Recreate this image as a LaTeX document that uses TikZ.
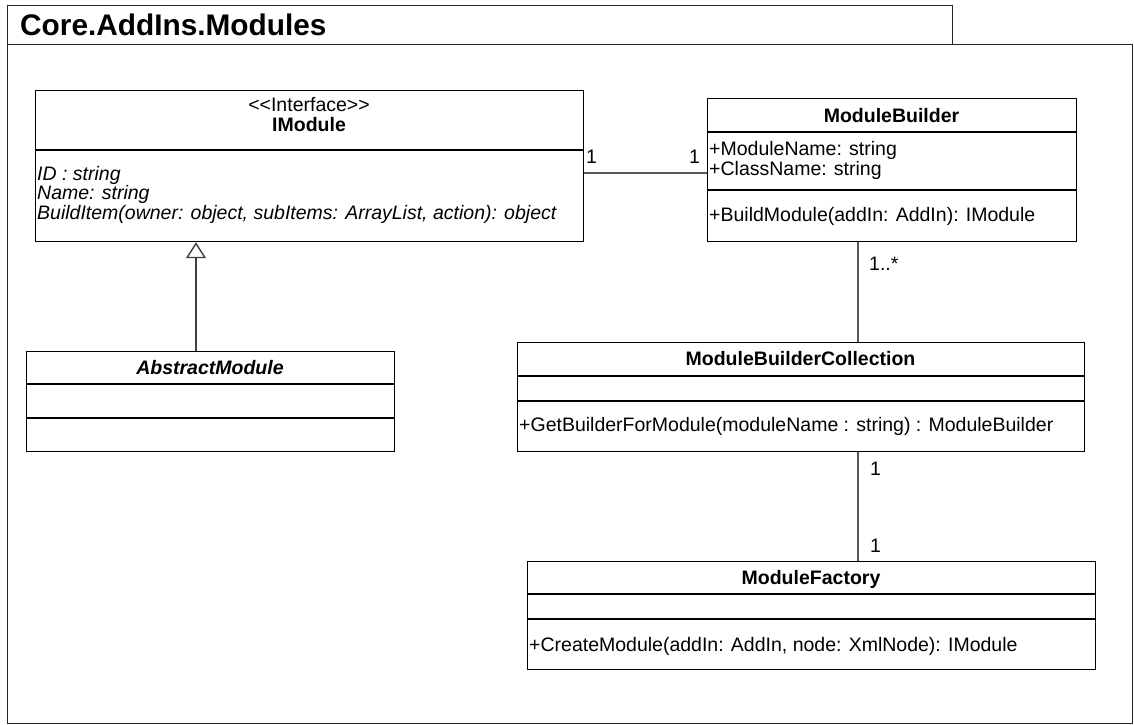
\documentclass[tikz,border=0pt]{standalone}
\usepackage{fontspec}
\setmainfont{Liberation Sans}
\usetikzlibrary{arrows.meta}
\begin{document}
\begin{tikzpicture}[x=1pt,y=-1pt,
  frame/.style={draw=black!85, line width=1.2pt, inner sep=0pt, anchor=north west},
  classbox/.style={draw=black, line width=1.2pt, inner sep=0pt, anchor=north west, fill=white},
  sep/.style={draw=black, line width=1.2pt},
  txt/.style={inner sep=0pt, anchor=base west, font=\fontsize{19.5}{20}\selectfont},
  itxt/.style={txt, font=\fontsize{19.5}{20}\selectfont\itshape},
  ctitle/.style={inner sep=0pt, anchor=base, font=\fontsize{19.5}{20}\selectfont\bfseries},
  assoc/.style={draw=black!65, line width=1.4pt},
  gen/.style={draw=black!75, line width=1.4pt, -{Triangle[open, width=20pt, length=16pt, fill=white]}}]
\useasboundingbox (0,0) rectangle (1134,724);

% package frame with its name tab
\node[frame, minimum width=1125pt, minimum height=679pt] (pkg) at (7,44) {};
\node[frame, minimum width=945pt, minimum height=39pt] (tab) at (7,5) {};
\node[inner sep=0pt, anchor=base west, font=\fontsize{29.8}{30}\selectfont\bfseries] (pkgname) at (20,35) {Core.AddIns.Modules};

% IModule
\node[classbox, minimum width=548pt, minimum height=151pt] (imod) at (35,90) {};
\draw[sep] (imod.west |- 0,150) -- (imod.east |- 0,150);
\node[inner sep=0pt, anchor=base, font=\fontsize{19.5}{20}\selectfont] (imod-st) at (309,111) {<{}<Interface>{}>};
\node[ctitle] (imod-name) at (309,131) {IModule};
\node[itxt] (imod-a1) at (37,180) {ID : string};
\node[itxt] (imod-a2) at (37,199.5) {Name: string};
\node[itxt] (imod-a3) at (37,219) {BuildItem(owner: object, subItems: ArrayList, action): object};

% ModuleBuilder
\node[classbox, minimum width=369pt, minimum height=143pt] (mb) at (707,98) {};
\draw[sep] (mb.west |- 0,132) -- (mb.east |- 0,132);
\draw[sep] (mb.west |- 0,190) -- (mb.east |- 0,190);
\node[ctitle] (mb-name) at (891.5,122) {ModuleBuilder};
\node[txt] (mb-a1) at (709,155) {+ModuleName: string};
\node[txt] (mb-a2) at (709,175) {+ClassName: string};
\node[txt] (mb-m1) at (709,221) {+BuildModule(addIn: AddIn): IModule};

% AbstractModule
\node[classbox, minimum width=368pt, minimum height=100pt] (am) at (26,351) {};
\draw[sep] (am.west |- 0,384) -- (am.east |- 0,384);
\draw[sep] (am.west |- 0,418) -- (am.east |- 0,418);
\node[ctitle, font=\fontsize{19.5}{20}\selectfont\bfseries\itshape] (am-name) at (210,374) {AbstractModule};

% ModuleBuilderCollection
\node[classbox, minimum width=567pt, minimum height=109pt] (mbc) at (517,342) {};
\draw[sep] (mbc.west |- 0,376) -- (mbc.east |- 0,376);
\draw[sep] (mbc.west |- 0,401) -- (mbc.east |- 0,401);
\node[ctitle] (mbc-name) at (800.5,365) {ModuleBuilderCollection};
\node[txt] (mbc-m1) at (519,431) {+GetBuilderForModule(moduleName : string) : ModuleBuilder};

% ModuleFactory
\node[classbox, minimum width=568pt, minimum height=108pt] (mf) at (527,561) {};
\draw[sep] (mf.west |- 0,594) -- (mf.east |- 0,594);
\draw[sep] (mf.west |- 0,619) -- (mf.east |- 0,619);
\node[ctitle] (mf-name) at (811,584) {ModuleFactory};
\node[txt] (mf-m1) at (529,651) {+CreateModule(addIn: AddIn, node: XmlNode): IModule};

% relations
\draw[assoc] (imod.east |- 0,173) -- (mb.west |- 0,173);
\node[txt] (m1) at (586,163) {1};
\node[txt] (m2) at (689,163) {1};
\draw[assoc] (mb.south -| 858,0) -- (mbc.north -| 858,0);
\node[txt] (m3) at (869,270) {1..*};
\draw[assoc] (mbc.south -| 858,0) -- (mf.north -| 858,0);
\node[txt] (m4) at (870,475) {1};
\node[txt] (m5) at (870,552) {1};
\draw[gen] (am.north -| 196,0) -- (imod.south -| 196,0);
\end{tikzpicture}
\end{document}
